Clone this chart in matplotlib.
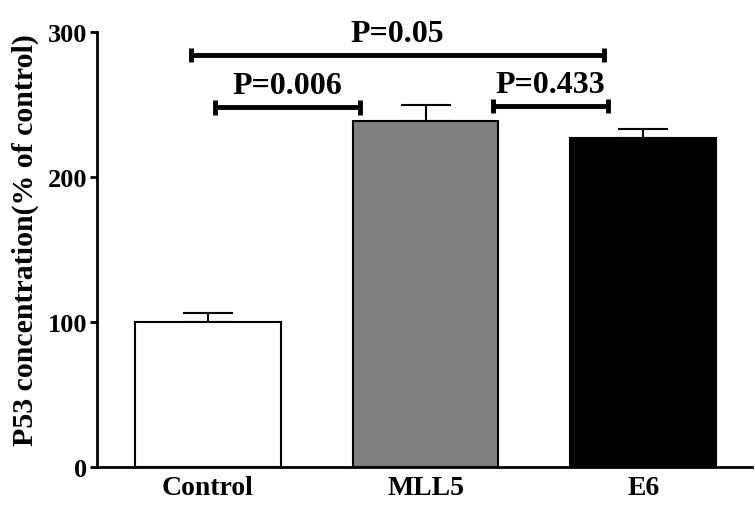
import matplotlib
matplotlib.use("Agg")
import matplotlib.pyplot as plt

# 数据
groups = ["Control", "MLL5", "E6"]
means = [100, 238.5, 227]
errors = [6, 11, 6]
colors = ["white", "#808080", "black"]

# 显著性标注: (左端x, 右端x, 高度y, 文本)
brackets = [
    (-0.08, 1.82, 284, "P=0.05"),
    (0.03, 0.70, 248, "P=0.006"),
    (1.31, 1.84, 249, "P=0.433"),
]

plt.rcParams["font.family"] = ["Liberation Serif", "DejaVu Serif"]
plt.rcParams["font.weight"] = "bold"

fig = plt.figure(figsize=(7.55, 5.06), dpi=100)
ax = fig.add_axes([97 / 755, 1 - 468 / 506, (752 - 97) / 755, (468 - 33) / 506])

x = range(len(groups))
ax.bar(x, means, width=0.67, color=colors, edgecolor="black", linewidth=1.5, zorder=2)
ax.errorbar(x, means, yerr=[[0] * len(errors), errors], fmt="none", ecolor="black",
            elinewidth=1.5, capsize=18, capthick=1.5, zorder=1)

# 显著性横线和两端短竖线
for x0, x1, y, label in brackets:
    ax.plot([x0, x1], [y, y], color="black", linewidth=3.5, solid_capstyle="butt")
    for xe in (x0, x1):
        ax.plot([xe, xe], [y - 5, y + 5], color="black", linewidth=3.5, solid_capstyle="butt")
    ax.text((x0 + x1) / 2, y + 5, label, ha="center", va="bottom", fontsize=23, fontweight="bold")

ax.set_xlim(-0.51, 2.5)
ax.set_ylim(0, 300)
ax.set_yticks([0, 100, 200, 300])
ax.set_xticks(list(x))
ax.set_xticklabels(groups, fontsize=20, fontweight="bold")
ax.tick_params(axis="y", labelsize=19, width=2, length=5, direction="out", pad=2)
ax.tick_params(axis="x", length=0, pad=6)
for lab in ax.get_yticklabels():
    lab.set_fontweight("bold")

ax.set_ylabel("P53 concentration(% of control)", fontsize=21.5, fontweight="bold")
ax.yaxis.set_label_coords(-0.088, 0.525)

ax.spines["top"].set_visible(False)
ax.spines["right"].set_visible(False)
ax.spines["left"].set_linewidth(2)
ax.spines["bottom"].set_linewidth(2)

fig.savefig("out.png", dpi=100)
